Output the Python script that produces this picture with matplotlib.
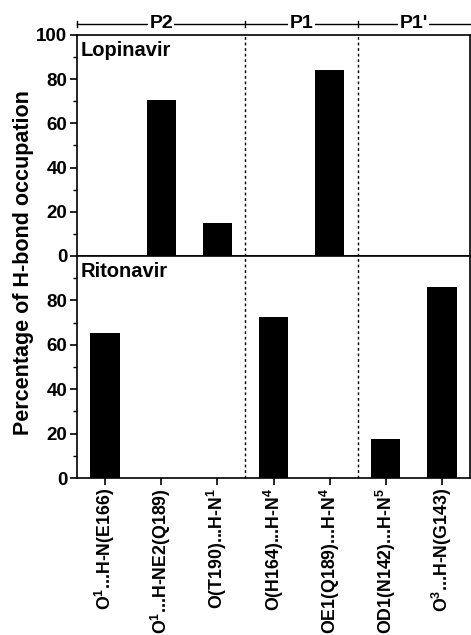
import matplotlib
matplotlib.use("Agg")
import matplotlib.pyplot as plt
import matplotlib.transforms as mtransforms

plt.rcParams['font.family'] = ['Liberation Sans', 'DejaVu Sans']
plt.rcParams['font.weight'] = 'bold'
plt.rcParams['mathtext.fontset'] = 'custom'
plt.rcParams['mathtext.rm'] = 'Liberation Sans:bold'
plt.rcParams['mathtext.bf'] = 'Liberation Sans:bold'

# data
labels = [r"O$^{1}$...H-N(E166)", r"O$^{1}$...H-NE2(Q189)", r"O(T190)...H-N$^{1}$",
          r"O(H164)...H-N$^{4}$", r"OE1(Q189)...H-N$^{4}$", r"OD1(N142)...H-N$^{5}$",
          r"O$^{3}$...H-N(G143)"]
lopinavir = [0, 70.5, 15, 0, 84, 0, 0]
ritonavir = [65.5, 0, 0, 72.5, 0, 17.5, 86]
regions = ["P2", "P1", "P1'"]
region_edges = [-0.5, 2.5, 4.5, 6.5]

x = list(range(len(labels)))

fig = plt.figure(figsize=(4.71, 6.35), dpi=100)
ax1 = fig.add_axes([0.1635, 0.5969, 0.8345, 0.3480])
ax2 = fig.add_axes([0.1635, 0.2472, 0.8345, 0.3497])

for ax, vals, name in [(ax1, lopinavir, "Lopinavir"), (ax2, ritonavir, "Ritonavir")]:
    ax.bar(x, vals, width=0.52, color='black')
    ax.set_xlim(-0.5, 6.5)
    ax.set_ylim(0, 100)
    for e in region_edges[1:-1]:
        ax.axvline(e, color='black', linestyle=(0, (2, 2)), linewidth=1)
    ax.set_xticks(x)
    ax.set_yticks([10, 30, 50, 70, 90], minor=True)
    ax.tick_params(axis='both', direction='out', width=1.2, length=5, labelsize=13.5, pad=2)
    ax.tick_params(axis='y', which='minor', direction='out', length=3, width=1)
    for s in ax.spines.values():
        s.set_linewidth(1.2)
    ax.text(0.008, 0.972, name, transform=ax.transAxes, ha='left', va='top',
            fontsize=14.5, fontweight='bold')

ax1.set_yticks([0, 20, 40, 60, 80, 100])
ax1.set_xticklabels([])
ax2.set_yticks([0, 20, 40, 60, 80])
ax2.set_xticklabels(labels, rotation=90, fontsize=12.8, fontweight='bold')

# region bracket above the top panel
trans = mtransforms.blended_transform_factory(ax1.transData, ax1.transAxes)
ybr = 1.05
ax1.plot([region_edges[0], region_edges[-1]], [ybr, ybr], color='black', lw=1,
         transform=trans, clip_on=False)
for e in region_edges[:-1]:
    ax1.plot([e, e], [ybr - 0.015, ybr + 0.015], color='black', lw=1,
             transform=trans, clip_on=False)
for i, r in enumerate(regions):
    mid = (region_edges[i] + region_edges[i + 1]) / 2
    ax1.text(mid, ybr, r, transform=trans, ha='center', va='center', fontsize=14,
             fontweight='bold', bbox=dict(facecolor='white', edgecolor='none', pad=1))

fig.text(0.049, 0.586, "Percentage of H-bond occupation", rotation=90, ha='center',
         va='center', fontsize=15.5, fontweight='bold')

fig.savefig("out.png", dpi=100)
